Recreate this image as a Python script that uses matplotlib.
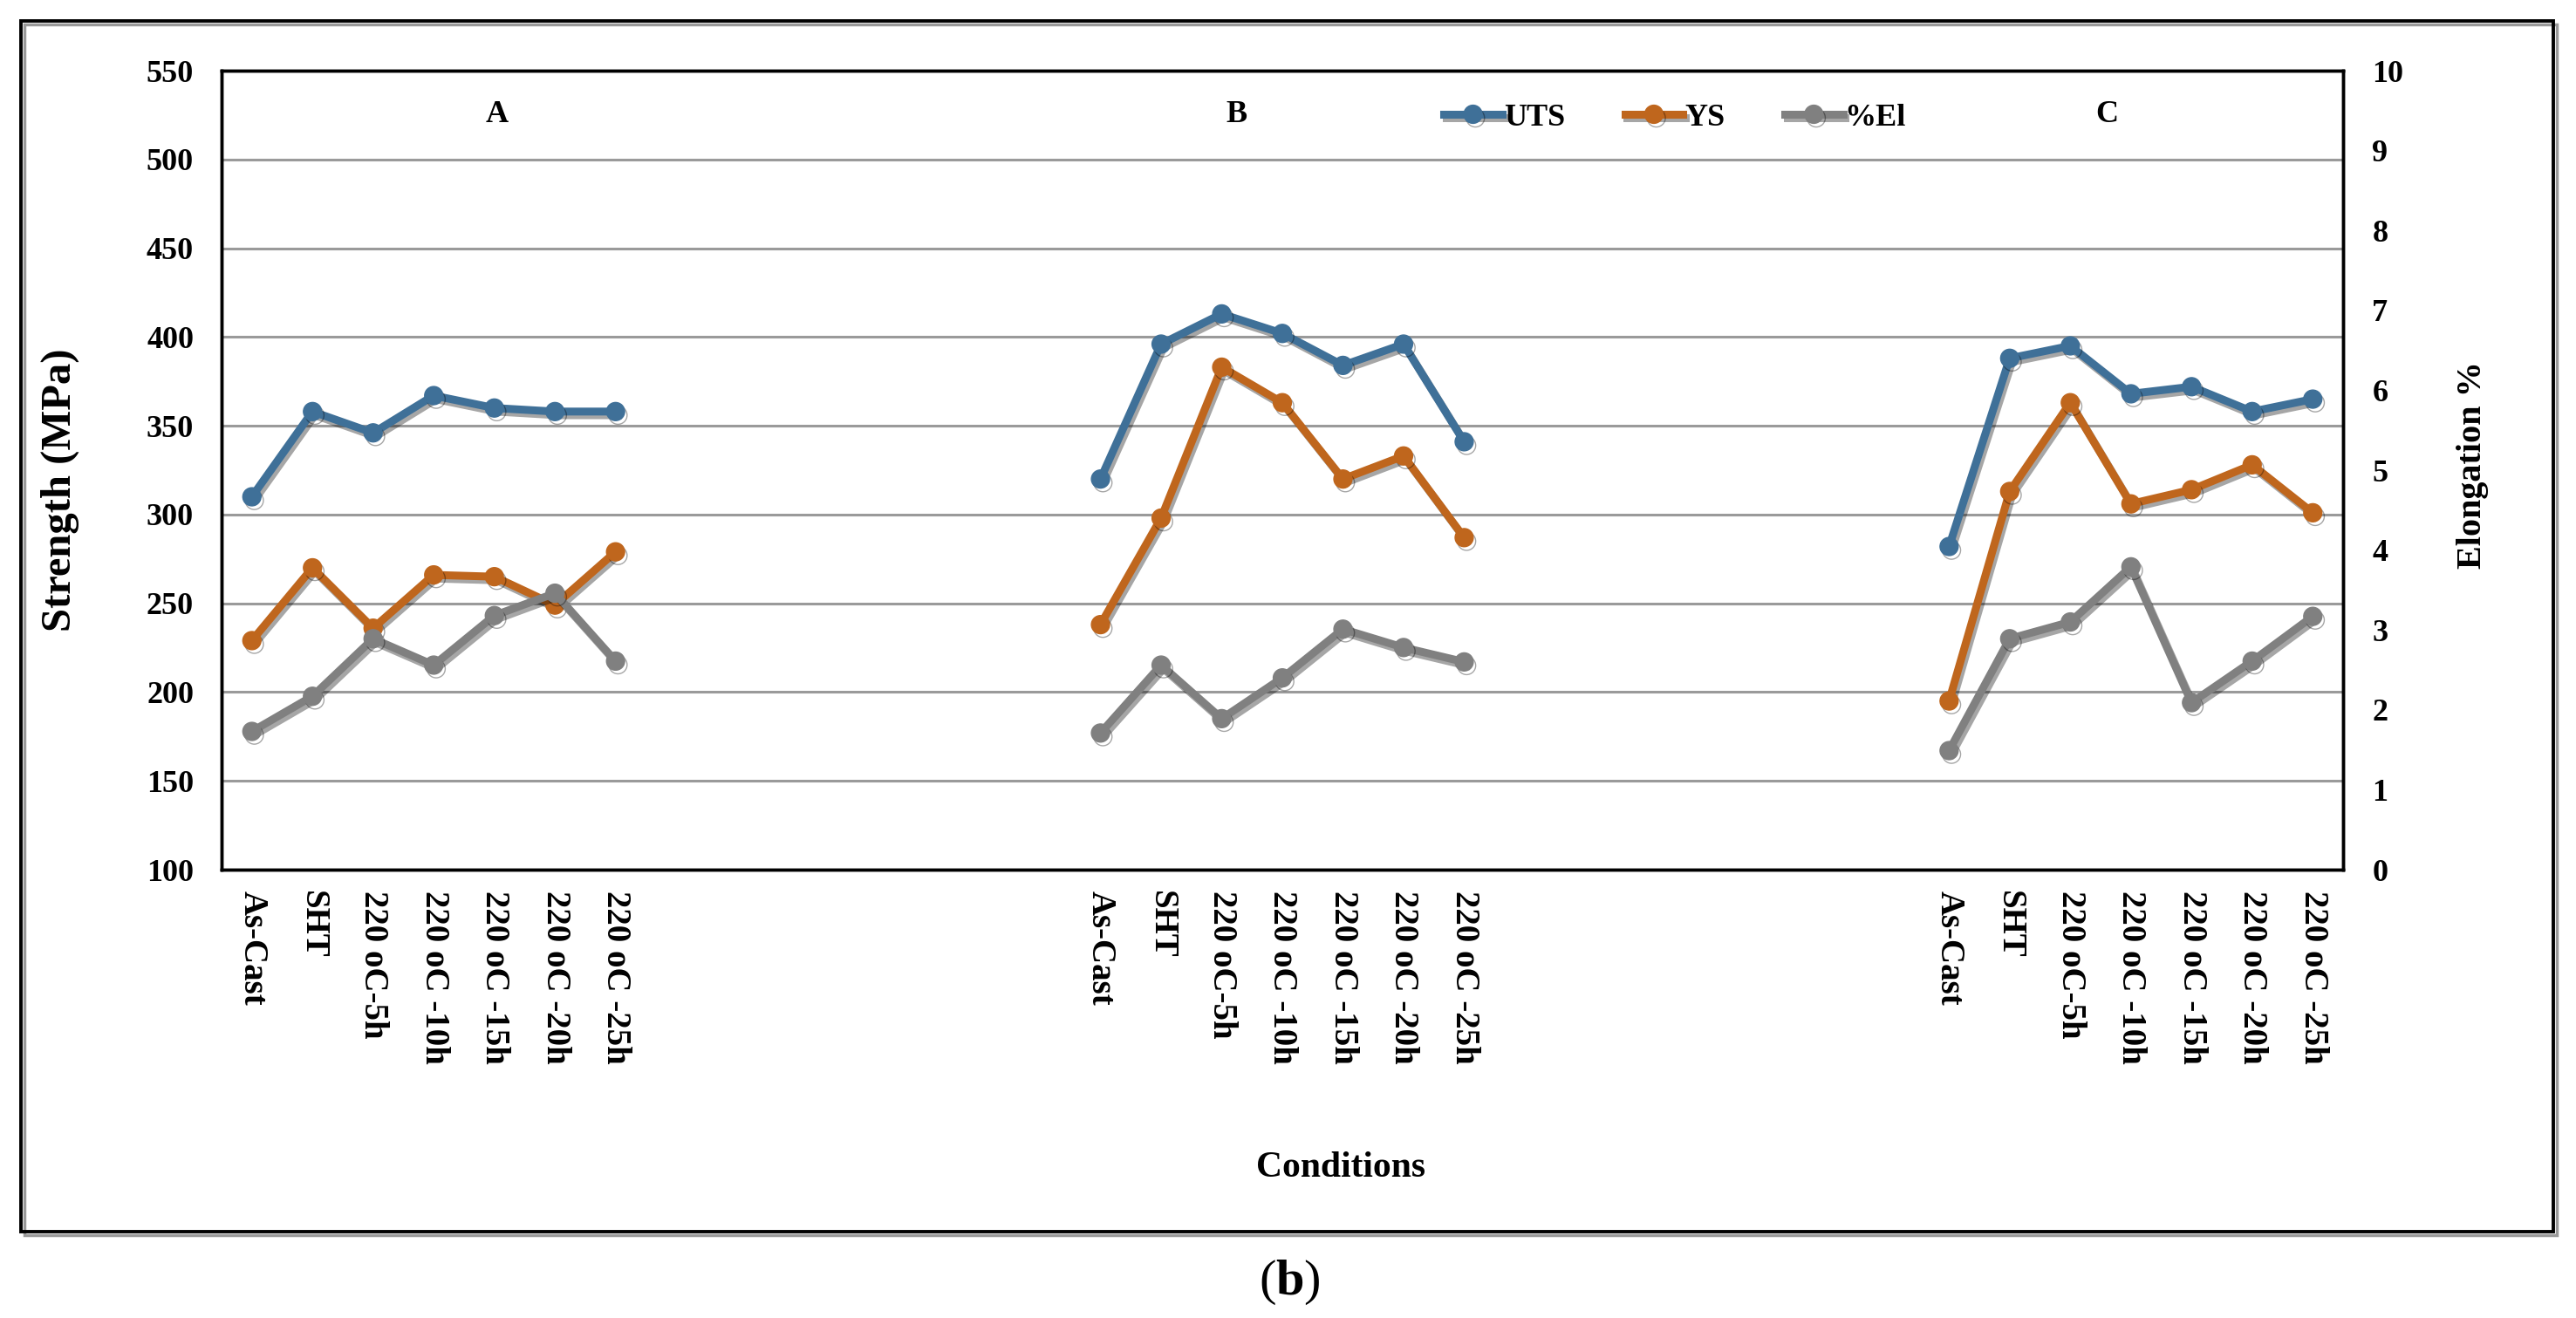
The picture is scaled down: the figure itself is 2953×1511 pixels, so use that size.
import numpy as np
import matplotlib
matplotlib.use("Agg")
import matplotlib.pyplot as plt
import matplotlib.patheffects as pe
from matplotlib.patches import Rectangle

#data
conditions = ["As-Cast", "SHT", "220 oC-5h", "220 oC -10h", "220 oC -15h", "220 oC -20h", "220 oC -25h"]
groups = ["A", "B", "C"]
group_label_x = [4.05, 16.25, 30.6]
GAP = 7  # empty category slots between the alloys

uts_A = [310, 358, 346, 367, 360, 358, 358]
uts_B = [320, 396, 413, 402, 384, 396, 341]
uts_C = [282, 388, 395, 368, 372, 358, 365]

ys_A = [229, 270, 236, 266, 265, 249, 279]
ys_B = [238, 298, 383, 363, 320, 333, 287]
ys_C = [195, 313, 363, 306, 314, 328, 301]

el_A = [1.73, 2.17, 2.89, 2.56, 3.18, 3.46, 2.61]
el_B = [1.71, 2.56, 1.89, 2.40, 3.01, 2.78, 2.60]
el_C = [1.49, 2.89, 3.10, 3.79, 2.09, 2.61, 3.17]

strength_ticks = [100, 150, 200, 250, 300, 350, 400, 450, 500, 550]
elong_ticks = list(range(0, 11))

C_UTS = "#3F7098"
C_YS = "#BF661D"
C_EL = "#808080"

plt.rcParams["font.family"] = ["Liberation Serif", "DejaVu Serif"]
plt.rcParams["mathtext.fontset"] = "custom"
plt.rcParams["mathtext.rm"] = "Liberation Serif"
plt.rcParams["mathtext.bf"] = "Liberation Serif:bold"


def spread(a, b, c):
    gap = [np.nan] * GAP
    return np.array(list(a) + gap + list(b) + gap + list(c), dtype=float)


labels = conditions + [""] * GAP + conditions + [""] * GAP + conditions
x = np.arange(len(labels))

fig = plt.figure(figsize=(29.53, 15.11), dpi=100)
ax = fig.add_axes([254 / 2953, 1 - 997 / 1511, (2686 - 254) / 2953, 916 / 1511])
ax2 = ax.twinx()

shadow = [pe.SimpleLineShadow(offset=(2, -3), alpha=0.35, shadow_color="black"), pe.Normal()]
l1, = ax.plot(x, spread(uts_A, uts_B, uts_C), "-o", color=C_UTS, lw=6.5, ms=15,
              path_effects=shadow, label="UTS", zorder=3)
l2, = ax.plot(x, spread(ys_A, ys_B, ys_C), "-o", color=C_YS, lw=6.5, ms=15,
              path_effects=shadow, label="YS", zorder=3)
l3, = ax2.plot(x, spread(el_A, el_B, el_C), "-o", color=C_EL, lw=6.5, ms=15,
               path_effects=shadow, label="%El", zorder=3)

#axes limits, grid
ax.set_xlim(-0.5, len(labels) - 0.5)
ax.set_ylim(100, 550)
ax2.set_ylim(0, 10)
ax.set_yticks(strength_ticks)
ax2.set_yticks(elong_ticks)
ax.yaxis.grid(True, color="#9a9a9a", lw=2.2)
ax.set_axisbelow(True)
for a in (ax, ax2):
    for s in a.spines.values():
        s.set_linewidth(2.5)
        s.set_color("black")

ax.tick_params(axis="y", length=0, pad=23)
ax2.tick_params(axis="y", length=0, pad=24)
for t in ax.get_yticklabels() + ax2.get_yticklabels():
    t.set_fontweight("bold")
    t.set_fontsize(26)

ax.set_xticks(x)
ax.set_xticklabels(labels, rotation=-90, fontsize=28, fontweight="bold", va="top", ha="center")
ax.tick_params(axis="x", length=0, pad=17)

ax.set_ylabel("Strength (MPa)", fontsize=35, fontweight="bold")
ax.yaxis.set_label_coords(-0.067, 0.475)
ax2.set_ylabel("Elongation %", fontsize=29, fontweight="bold", rotation=90)
ax2.yaxis.set_label_coords(1.0535, 0.507)

for gx, g in zip(group_label_x, groups):
    ax.text(gx, 525, g, fontsize=26, fontweight="bold", ha="center", va="center")

fig.legend([l1, l2, l3], ["UTS", "YS", "%El"], loc="center",
           bbox_to_anchor=(1920 / 2953, 1 - 135 / 1511), ncol=3, frameon=False,
           prop={"family": "Liberation Serif", "weight": "bold", "size": 26},
           handlelength=1.85, handletextpad=0.05, columnspacing=1.9, markerscale=1.0)

fig.text(1537 / 2953, 1 - 1339 / 1511, "Conditions", fontsize=30, fontweight="bold",
         ha="center", va="center")

#outer frame with a little shadow
fig.patches.append(Rectangle((28 / 2953, 1 - 1416 / 1511), 2903 / 2953, 1388 / 1511,
                             transform=fig.transFigure, fill=False, ec="#999999", lw=2.5))
fig.patches.append(Rectangle((24 / 2953, 1 - 1412 / 1511), 2903 / 2953, 1388 / 1511,
                             transform=fig.transFigure, fill=False, ec="black", lw=2.8))

fig.text(1478 / 2953, 1 - 1470 / 1511, r"$\mathrm{(}\mathbf{b}\mathrm{)}$", fontsize=42,
         ha="center", va="center")

fig.savefig("out.png", dpi=100)
